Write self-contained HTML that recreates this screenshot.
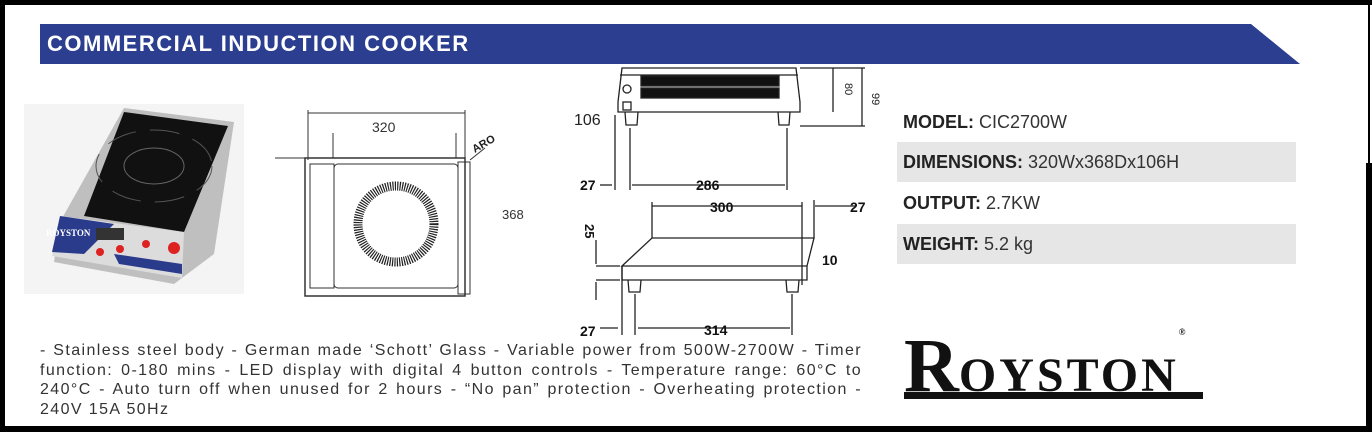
<!DOCTYPE html>
<html><head><meta charset="utf-8"><style>
*{margin:0;padding:0;box-sizing:border-box}
body{width:1372px;height:432px;position:relative;background:#fff;font-family:"Liberation Sans",sans-serif;overflow:hidden}
.abs{position:absolute}
.row{position:absolute;left:897px;width:399px;height:40px;font-size:18px;line-height:40px;padding-left:6px;color:#333}
.row b{color:#222}
.gray{background:#e6e6e6}
</style></head><body>
<!-- frame -->
<div class="abs" style="left:0;top:0;width:1372px;height:5px;background:#000"></div>
<div class="abs" style="left:0;top:0;width:5px;height:432px;background:#000"></div>
<div class="abs" style="left:0;top:426px;width:1372px;height:6px;background:#000"></div>
<div class="abs" style="left:1366px;top:163px;width:6px;height:269px;background:#000"></div>
<div class="abs" style="left:1368px;top:0;width:2px;height:163px;background:#000"></div>

<!-- banner -->
<svg class="abs" style="left:0;top:0" width="1372" height="70">
<polygon points="40,24 1251,24 1300,64 40,64" fill="#2c3e8f"/>
</svg>
<div class="abs" style="left:47px;top:31px;color:#fff;font-weight:bold;font-size:22px;letter-spacing:1.5px">COMMERCIAL INDUCTION COOKER</div>

<!-- product photo -->
<svg class="abs" style="left:24px;top:104px" width="220" height="190">
<rect width="220" height="190" fill="#f4f4f4"/>
<polygon points="100,4 210,18 190,150 150,180 30,158 36,118" fill="#bfbfbf"/>
<polygon points="100,8 204,22 160,128 60,112" fill="#111"/>
<polygon points="36,112 160,128 158,174 28,152" fill="#dcdcdc"/>
<polygon points="36,112 90,120 60,150 28,148" fill="#2a3b8c"/>
<polygon points="90,150 158,160 158,170 95,160" fill="#2a3b8c"/>
<ellipse cx="130" cy="62" rx="30" ry="18" fill="none" stroke="#666" stroke-width="1"/>
<ellipse cx="130" cy="62" rx="58" ry="36" fill="none" stroke="#555" stroke-width="1" stroke-dasharray="30 14"/>
<rect x="72" y="124" width="28" height="12" fill="#333"/>
<circle cx="150" cy="144" r="6" fill="#d22"/><circle cx="122" cy="140" r="4" fill="#d22"/>
<circle cx="96" cy="145" r="4" fill="#d22"/><circle cx="76" cy="148" r="4" fill="#d22"/>
<text x="22" y="132" font-size="9" font-family="Liberation Serif" fill="#fff" font-weight="bold">ROYSTON</text>
</svg>

<!-- top view -->
<svg class="abs" style="left:270px;top:100px" width="270" height="200" font-family="Liberation Sans">
<g stroke="#333" fill="none" stroke-width="1">
<line x1="38" y1="13" x2="195" y2="13"/><line x1="38" y1="10" x2="38" y2="60"/><line x1="195" y1="10" x2="195" y2="60"/>
<line x1="63" y1="33" x2="63" y2="58"/><line x1="186" y1="33" x2="186" y2="58"/>
<line x1="5" y1="58" x2="60" y2="58"/>
<rect x="35" y="58" width="160" height="138" stroke-width="1.5"/>
<rect x="40" y="64" width="24" height="124"/>
<rect x="64" y="64" width="124" height="124" rx="4"/>
<rect x="188" y="62" width="12" height="132"/>
<circle cx="126" cy="124" r="38" stroke="#222" stroke-width="9" stroke-dasharray="1.2 1.2"/>
<line x1="200" y1="60" x2="215" y2="48"/>
</g>
<text x="102" y="32" font-size="14" fill="#333">320</text>
<text x="232" y="119" font-size="13" fill="#333">368</text>
<text x="204" y="50" font-size="11" font-weight="bold" fill="#222" transform="rotate(-30 210 50)">ARO</text>
</svg>

<!-- side views -->
<svg class="abs" style="left:560px;top:60px" width="330" height="280" font-family="Liberation Sans">
<g stroke="#222" fill="none" stroke-width="1.3">
<path d="M62 8 L58 42 L58 52 L162 52 L240 52 L240 42 L236 8 Z"/>
<line x1="60" y1="15" x2="238" y2="15"/>
<circle cx="67" cy="29" r="4"/><rect x="63" y="42" width="8" height="8"/>
<path d="M65 52 L66 65 L77 65 L78 52 M218 52 L219 65 L229 65 L230 52"/>
<rect x="81" y="16" width="138" height="10" fill="#111"/><rect x="81" y="28" width="138" height="10" fill="#111"/>
<line x1="240" y1="8" x2="305" y2="8"/><line x1="240" y1="66" x2="305" y2="66"/>
<line x1="273" y1="8" x2="273" y2="52"/><line x1="302" y1="8" x2="302" y2="66"/>
<line x1="55" y1="55" x2="55" y2="130"/><line x1="70" y1="68" x2="70" y2="130"/><line x1="227" y1="68" x2="227" y2="130"/>
<line x1="72" y1="125" x2="225" y2="125"/><line x1="40" y1="125" x2="52" y2="125"/>
<line x1="92" y1="146" x2="242" y2="146"/><line x1="92" y1="142" x2="92" y2="178"/><line x1="242" y1="142" x2="242" y2="225"/>
<line x1="255" y1="146" x2="295" y2="146"/><line x1="254" y1="140" x2="254" y2="178"/>
<path d="M92 178 L254 178 L247 206 L62 206 Z M62 206 L62 220 L247 220 L247 206"/>
<path d="M68 220 L69 232 L80 232 L81 220 M226 220 L227 232 L238 232 L239 220"/>
<line x1="36" y1="206" x2="60" y2="206"/><line x1="36" y1="220" x2="60" y2="220"/>
<line x1="36" y1="180" x2="36" y2="204"/><line x1="36" y1="222" x2="36" y2="240"/>
<line x1="62" y1="206" x2="62" y2="275"/><line x1="75" y1="234" x2="75" y2="275"/><line x1="232" y1="234" x2="232" y2="275"/>
<line x1="78" y1="268" x2="230" y2="268"/><line x1="40" y1="268" x2="58" y2="268"/>
</g>
<text x="14" y="65" font-size="16" fill="#222">106</text>
<text x="20" y="130" font-size="14" font-weight="bold" fill="#111">27</text>
<text x="136" y="130" font-size="14" font-weight="bold" fill="#111">286</text>
<text x="150" y="152" font-size="14" font-weight="bold" fill="#111">300</text>
<text x="290" y="152" font-size="14" font-weight="bold" fill="#111">27</text>
<text x="20" y="276" font-size="14" font-weight="bold" fill="#111">27</text>
<text x="144" y="275" font-size="14" font-weight="bold" fill="#111">314</text>
<text x="262" y="205" font-size="14" font-weight="bold" fill="#111">10</text>
<text x="24" y="175" font-size="13" font-weight="bold" fill="#111" transform="rotate(90 30 170)">25</text>
<text x="278" y="20" font-size="11" fill="#222" transform="rotate(90 280 25)">80</text>
<text x="305" y="30" font-size="11" fill="#222" transform="rotate(90 307 35)">99</text>
</svg>

<!-- specs -->
<div class="row" style="top:102px"><b>MODEL:</b> CIC2700W</div>
<div class="row gray" style="top:142px"><b>DIMENSIONS:</b> 320Wx368Dx106H</div>
<div class="row" style="top:183px"><b>OUTPUT:</b> 2.7KW</div>
<div class="row gray" style="top:224px"><b>WEIGHT:</b> 5.2 kg</div>

<!-- logo -->
<div class="abs" style="left:904px;top:328px;font-family:'Liberation Serif',serif;font-weight:bold;color:#111;line-height:1;white-space:nowrap"><span style="font-size:76px">R</span><span style="font-size:48px;letter-spacing:3px">OYSTON</span><sup style="font-size:9px;vertical-align:top">®</sup></div>
<div class="abs" style="left:904px;top:392px;width:299px;height:7px;background:#111"></div>

<!-- description -->
<div class="abs" style="left:40px;top:341px;width:822px;font-size:16px;line-height:19.5px;letter-spacing:1.4px;color:#333;text-align:justify">- Stainless steel body - German made ‘Schott’ Glass - Variable power from 500W-2700W - Timer function: 0-180 mins - LED display with digital 4 button controls - Temperature range: 60°C to 240°C - Auto turn off when unused for 2 hours - “No pan” protection - Overheating protection - 240V 15A 50Hz</div>
</body></html>
